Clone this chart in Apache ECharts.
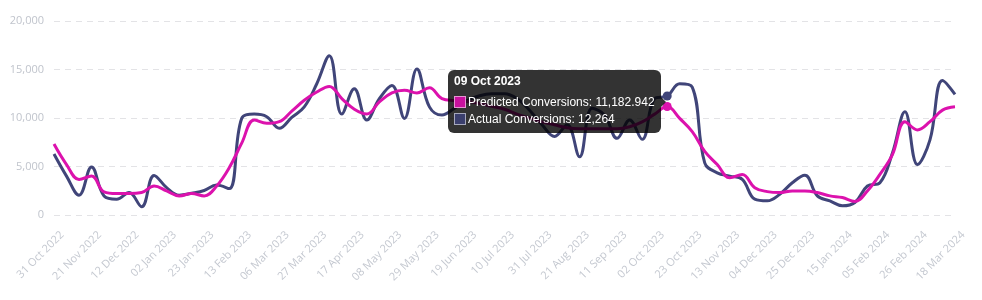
<!DOCTYPE html>
<html>
<head>
<meta charset="utf-8">
<script src="https://cdn.jsdelivr.net/npm/echarts@6/dist/echarts.min.js"></script>
<style>
html,body{margin:0;padding:0;background:#fff;}
#chart{width:982px;height:300px;position:relative;}
</style>
</head>
<body>
<div id="chart"></div>
<script>
const weeks = [
  "31 Oct 2022","07 Nov 2022","14 Nov 2022","21 Nov 2022","28 Nov 2022","05 Dec 2022","12 Dec 2022","19 Dec 2022","26 Dec 2022",
  "02 Jan 2023","09 Jan 2023","16 Jan 2023","23 Jan 2023","30 Jan 2023","06 Feb 2023","13 Feb 2023","20 Feb 2023","27 Feb 2023",
  "06 Mar 2023","13 Mar 2023","20 Mar 2023","27 Mar 2023","03 Apr 2023","10 Apr 2023","17 Apr 2023","24 Apr 2023",
  "01 May 2023","08 May 2023","15 May 2023","22 May 2023","29 May 2023","05 Jun 2023","12 Jun 2023","19 Jun 2023","26 Jun 2023",
  "03 Jul 2023","10 Jul 2023","17 Jul 2023","24 Jul 2023","31 Jul 2023","07 Aug 2023","14 Aug 2023","21 Aug 2023","28 Aug 2023",
  "04 Sep 2023","11 Sep 2023","18 Sep 2023","25 Sep 2023","02 Oct 2023","09 Oct 2023","16 Oct 2023","23 Oct 2023","30 Oct 2023",
  "06 Nov 2023","13 Nov 2023","20 Nov 2023","27 Nov 2023","04 Dec 2023","11 Dec 2023","18 Dec 2023","25 Dec 2023",
  "01 Jan 2024","08 Jan 2024","15 Jan 2024","22 Jan 2024","29 Jan 2024","05 Feb 2024","12 Feb 2024","19 Feb 2024","26 Feb 2024",
  "04 Mar 2024","11 Mar 2024","18 Mar 2024"
];

const predictedConversions = [
  7310, 5200, 3670, 4010, 2380, 2210, 2210, 2310, 2990, 2480,
  1970, 2210, 1970, 2990, 4860, 7410, 9790, 9450, 9620, 10710,
  11830, 12680, 13260, 12000, 10900, 10400, 11660, 12580, 12850, 12580,
  13120, 12000, 11800, 11700, 11500, 11200, 10900, 10400, 10000, 9600,
  9300, 9000, 8900, 8900, 8900, 8900, 9100, 9600, 10400, 11182.942,
  9960, 8600, 6560, 5200, 3840, 4180, 2820, 2410, 2310, 2480,
  2480, 2310, 1970, 1800, 1400, 2480, 4180, 6220, 9620, 8770,
  9620, 10810, 11150
];

const actualConversions = [
  6290, 4010, 2040, 4950, 1970, 1630, 2310, 850, 4080, 2820,
  2040, 2240, 2530, 3090, 2720, 9960, 10400, 10130, 8940, 10060,
  11150, 13530, 16420, 10400, 13020, 9790, 12000, 13360, 9960, 15060,
  11150, 10300, 11000, 11800, 12300, 12500, 12500, 12000, 10800, 9300,
  8100, 9300, 6000, 11000, 10300, 7900, 9800, 7800, 12000, 12264,
  13530, 13190, 5370, 4350, 4010, 3670, 1630, 1460, 2140, 3330,
  4100, 1970, 1460, 950, 1290, 2990, 3330, 6390, 10640, 5200,
  7750, 13870, 12440
];

const yTicks = [0, 5000, 10000, 15000, 20000];
const hoverIndex = 49;

const MAGENTA = '#c8119e';
const NAVY = '#3b3f6e';

const fmt = v => v.toLocaleString('en-US', {maximumFractionDigits: 3});

const chart = echarts.init(document.getElementById('chart'), null, {renderer: 'canvas'});

function marker(color) {
  return '<span style="display:inline-block;width:10px;height:10px;background:' + color +
    ';border:1px solid rgba(255,255,255,0.55);vertical-align:-2px;margin-right:2px;"></span>';
}

chart.setOption({
  animation: false,
  backgroundColor: '#fff',
  grid: {left: 54, right: 27, top: 21, bottom: 85, containLabel: false},
  xAxis: {
    type: 'category',
    data: weeks,
    boundaryGap: false,
    axisLine: {show: false},
    axisTick: {show: false},
    splitLine: {show: false},
    axisLabel: {
      interval: 2,
      rotate: 45,
      margin: 10,
      verticalAlign: 'top',
      padding: [6, 0, 0, 0],
      color: '#c4c8d0',
      fontFamily: 'Open Sans',
      fontSize: 11
    }
  },
  yAxis: {
    type: 'value',
    min: yTicks[0],
    max: yTicks[yTicks.length - 1],
    interval: 5000,
    axisLine: {show: false},
    axisTick: {show: false},
    axisLabel: {
      margin: 10,
      color: '#c0c4cc',
      fontFamily: 'Open Sans',
      fontSize: 11,
      formatter: v => fmt(v)
    },
    splitLine: {lineStyle: {color: '#e3e3e6', type: [6, 5], width: 1}}
  },
  tooltip: {
    trigger: 'axis',
    triggerOn: 'none',
    alwaysShowContent: true,
    transitionDuration: 0,
    axisPointer: {type: 'none'},
    position: [448, 70],
    backgroundColor: 'rgba(0,0,0,0.8)',
    borderWidth: 0,
    padding: [5, 6, 6, 6],
    extraCssText: 'border-radius:6px;box-shadow:none;',
    formatter: function (params) {
      const idx = params[0].dataIndex;
      let html = '<div style="position:relative;font-family:\'Liberation Sans\',Arial,sans-serif;color:#fff;">';
      html += '<div style="font-weight:bold;font-size:12px;line-height:13px;margin-bottom:6px;">' + weeks[idx] + '</div>';
      html += '<div style="font-size:12px;line-height:16.5px;">' + marker(MAGENTA) + 'Predicted Conversions: ' + fmt(predictedConversions[idx]) + '</div>';
      html += '<div style="font-size:12px;line-height:16.5px;">' + marker(NAVY) + 'Actual Conversions: ' + fmt(actualConversions[idx]) + '</div>';
      html += '<div style="position:absolute;right:-11px;top:22px;width:0;height:0;border-top:5px solid transparent;border-bottom:5px solid transparent;border-left:5px solid rgba(0,0,0,0.8);"></div>';
      html += '</div>';
      return html;
    }
  },
  series: [
    {
      name: 'Predicted Conversions',
      type: 'line',
      data: predictedConversions,
      smooth: 0.4,
      showSymbol: true,
      showAllSymbol: true,
      symbol: 'circle',
      symbolSize: (v, p) => p.dataIndex === hoverIndex ? 9 : 0,
      itemStyle: {color: MAGENTA},
      lineStyle: {color: MAGENTA, width: 3},
      emphasis: {scale: false, focus: 'none', lineStyle: {width: 3}},
      z: 3
    },
    {
      name: 'Actual Conversions',
      type: 'line',
      data: actualConversions,
      smooth: 0.4,
      showSymbol: true,
      showAllSymbol: true,
      symbol: 'circle',
      symbolSize: (v, p) => p.dataIndex === hoverIndex ? 9 : 0,
      itemStyle: {color: NAVY},
      lineStyle: {color: NAVY, width: 3},
      emphasis: {scale: false, focus: 'none', lineStyle: {width: 3}},
      z: 2
    }
  ]
});

chart.dispatchAction({type: 'showTip', seriesIndex: 0, dataIndex: hoverIndex});
</script>
</body>
</html>
